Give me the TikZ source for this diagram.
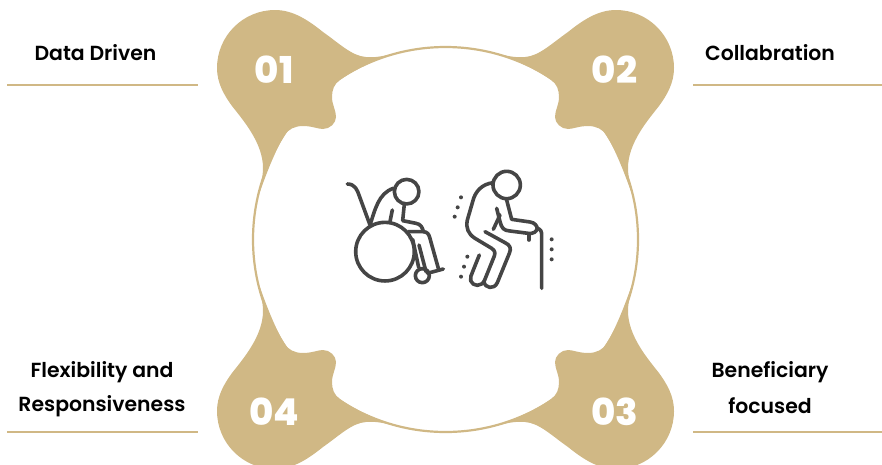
\documentclass[tikz,border=0pt]{standalone}
\usepackage{fontspec}
\setmainfont{Poppins}[BoldFont={Poppins SemiBold}]
\newfontfamily\digitfont{Poppins ExtraBold}
\definecolor{gold}{HTML}{D0B885}
\definecolor{ink}{HTML}{454545}
\tikzset{
  rulelinestyle/.style={draw=gold,line width=2pt},
  ringstyle/.style={draw=gold,line width=2.2pt},
  labeltext/.style={font=\bfseries\fontsize{20.4}{26}\selectfont,text=black,align=center,inner sep=0pt},
  digittext/.style={font=\digitfont\fontsize{37}{37}\selectfont,text=white,inner sep=0pt},
  iconline/.style={draw=ink,line width=3.6pt,line cap=round,line join=round},
  icondot/.style={fill=ink,draw=none},
  iconscope/.style={x=0.3333pt,y=-0.3333pt}
}
\newcommand{\petalshape}[1]{%
  \begin{scope}[shift={(445.5,239.5)},#1,shift={(-445.5,-239.5)}]
  \fill[gold] (402,51.5) .. controls (385,56) and (375,58) .. (366,57)
   .. controls (352,56) and (340,44) .. (323,32)
   .. controls (308,20) and (293,10) .. (275,10)
   .. controls (243,10) and (217,36) .. (217,68)
   .. controls (217,83) and (224,95) .. (232,106)
   .. controls (243,120) and (263,143) .. (263,168)
   .. controls (263,178) and (260,188) .. (257,200)
   .. controls (264,180) and (273,155) .. (284,136)
   .. controls (288,129) and (295,126) .. (303,126)
   .. controls (312,126) and (318,129) .. (323,129)
   .. controls (330,129) and (336,123) .. (336,117)
   .. controls (336,110) and (332,105) .. (332,97)
   .. controls (332,90) and (334,84) .. (340,80)
   .. controls (358,67) and (380,58) .. (402,51.5) -- cycle;
  \end{scope}}
\begin{document}
\begin{tikzpicture}[x=1pt,y=-1pt]
\useasboundingbox (0,0) rectangle (882,464);
\clip (0,0) rectangle (882,464);
\node[ringstyle,circle,minimum size=385pt,inner sep=0pt] (ring) at (445.5,239.5) {};
\petalshape{xscale=1,yscale=1}
\petalshape{xscale=-1,yscale=1}
\petalshape{xscale=-1,yscale=-1}
\petalshape{xscale=1,yscale=-1}
\node[digittext] (n1) at (274,70) {01};
\node[digittext] (n2) at (614.5,70) {02};
\node[digittext] (n3) at (614.5,412) {03};
\node[digittext] (n4) at (274,412) {04};
\node[labeltext] (t1) at (95.5,52.5) {Data Driven};
\node[labeltext] (t2) at (770,52.5) {Collabration};
\node[labeltext] (t3a) at (770,372) {Beneficiary};
\node[labeltext] (t3b) at (770,406) {focused};
\node[labeltext] (t4a) at (102,372) {Flexibility and};
\node[labeltext] (t4b) at (102,406) {Responsiveness};
\coordinate (r1a) at (7,85); \coordinate (r1b) at (198,85);
\coordinate (r2a) at (693,85); \coordinate (r2b) at (882,85);
\coordinate (r3a) at (693,432); \coordinate (r3b) at (882,432);
\coordinate (r4a) at (7,432); \coordinate (r4b) at (198,432);
\draw[rulelinestyle] (r1a)--(r1b);
\draw[rulelinestyle] (r2a)--(r2b);
\draw[rulelinestyle] (r3a)--(r3b);
\draw[rulelinestyle] (r4a)--(r4b);
% wheelchair
\begin{scope}[shift={(340,160)},iconscope]
\draw[iconline] (200,95) circle (12.3pt);
\draw[iconline] (135,275) circle (29.3pt);
\draw[iconline] (247,347) circle (7pt);
\draw[iconline] (22,72) .. controls (45,72) and (52,90) .. (58,108) -- (90,195)
  .. controls (105,150) and (115,100) .. (160,85);
\draw[iconline] (157,150) -- (150,185);
\draw[iconline] (193,132) -- (188,182) -- (228,190) .. controls (242,192) and (248,203) .. (250,215) -- (205,215);
\draw[iconline] (250,215) .. controls (262,216) and (266,222) .. (269,232) -- (295,325);
\draw[iconline] (237,255) -- (258,335);
\draw[iconline] (218,238) -- (236,322);
\draw[iconline] (262,340) -- (310,327);
\end{scope}
% man with cane
\begin{scope}[shift={(450,160)},iconscope]
\draw[iconline] (170,75) circle (13.7pt);
\draw[iconline] (130,68) .. controls (95,72) and (75,95) .. (68,125) -- (52,180)
  .. controls (47,205) and (55,222) .. (75,235) -- (125,265) .. controls (135,272) and (136,278) .. (133,288)
  -- (104,360) .. controls (95,382) and (68,380) .. (62,362) .. controls (60,352) and (64,345) .. (68,335) -- (88,285);
\draw[iconline] (105,215) -- (165,248) .. controls (180,255) and (185,265) .. (178,280) -- (142,368)
  .. controls (132,390) and (105,385) .. (102,365);
\draw[iconline] (170,120) -- (185,178) -- (240,186) .. controls (255,188) and (262,198) .. (262,208);
\draw[iconline] (140,145) -- (150,185) .. controls (155,205) and (162,212) .. (180,213) -- (235,220)
  .. controls (250,222) and (260,215) .. (262,205);
\draw[iconline] (150,165) -- (130,208);
\draw[iconline] (237,222) -- (237,240);
\draw[iconline] (262,205) .. controls (272,208) and (275,214) .. (275,225) -- (275,385);
\foreach \p in {(33,112),(23,142),(14,170),(52,290),(42,320),(33,350),(305,238),(305,268),(305,298)}
  \fill[icondot] \p circle (2pt);
\end{scope}
\end{tikzpicture}
\end{document}
